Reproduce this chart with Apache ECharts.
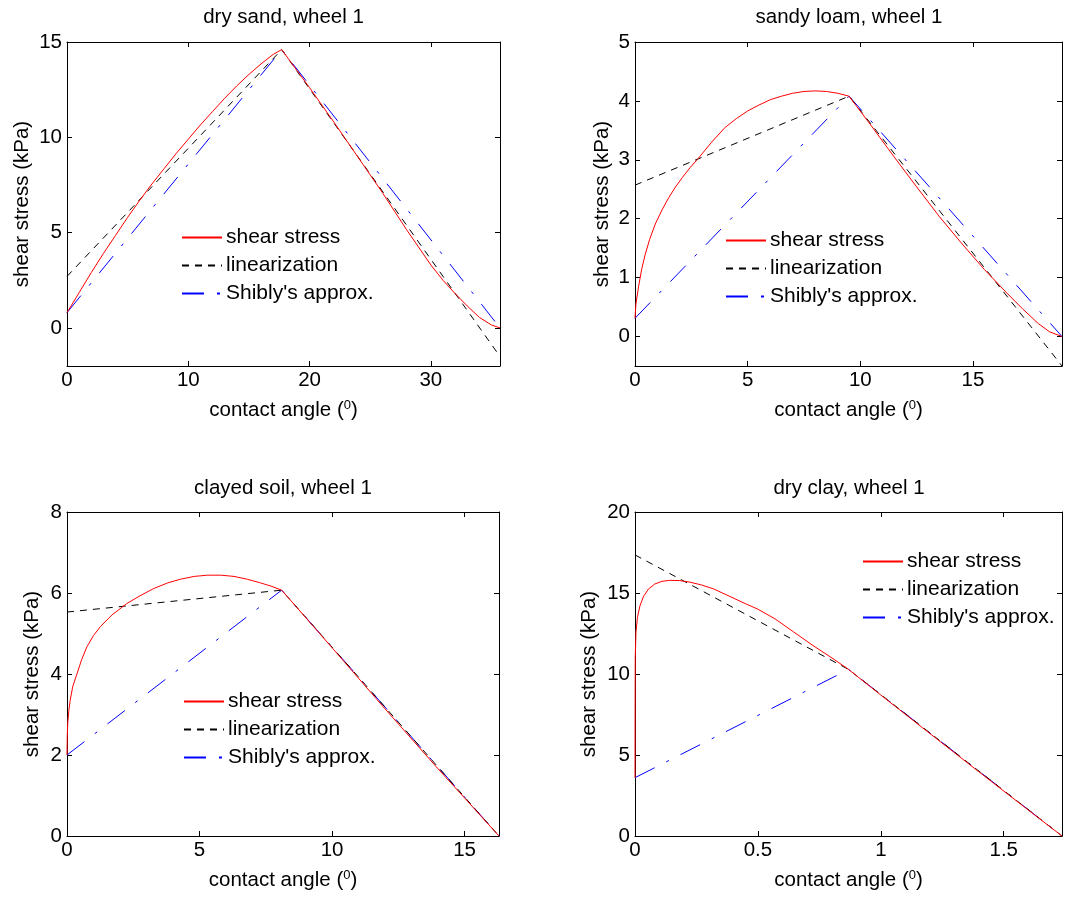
<!DOCTYPE html>
<html>
<head>
<meta charset="utf-8">
<script src="https://cdn.jsdelivr.net/npm/echarts@6/dist/echarts.min.js"></script>
<style>
  html, body { margin: 0; padding: 0; background: #fff; }
  #chart { width: 1065px; height: 902px; }
</style>
</head>
<body>
<div id="chart"></div>
<script>
// Panel titles and legend entries
const panelTitles = ['dry sand, wheel 1', 'sandy loam, wheel 1', 'clayed soil, wheel 1', 'dry clay, wheel 1'];
const seriesNames = ['shear stress', 'linearization', "Shibly's approx."];

// [contact angle (deg), shear stress (kPa)] for each soil
const drySandShear = [[0,0.8],[1,1.85],[2,2.9],[3,3.9],[4,4.85],[5,5.8],[6,6.7],[7,7.55],[8,8.35],[9,9.15],[10,9.9],[11,10.65],[12,11.35],[13,12.05],[14,12.7],[15,13.3],[16,13.85],[17,14.35],[17.7,14.6],[20,12.6],[22,10.8],[24,8.95],[26,7.1],[28,5.15],[30,3.3],[31,2.5],[32,1.8],[33,1.15],[34,0.55],[35,0.15],[35.7,0]];
const drySandLinear = [[0,2.7],[17.7,14.6],[35.7,-1.5]];
const drySandShibly = [[0,0.8],[17.7,14.6],[35.7,0]];

const sandyLoamShear = [[0,0.31],[0.04,0.55],[0.16,0.85],[0.3,1.15],[0.45,1.39],[0.65,1.65],[0.9,1.91],[1.2,2.15],[1.5,2.36],[1.8,2.54],[2.1,2.7],[2.45,2.87],[2.8,3.02],[3.4,3.3],[4,3.55],[4.5,3.7],[5,3.83],[5.5,3.93],[6,4.02],[6.5,4.08],[7,4.13],[7.5,4.16],[8,4.17],[8.5,4.16],[9,4.13],[9.5,4.08],[10.5,3.57],[11.5,3.05],[12.5,2.54],[13.5,2.04],[14.5,1.58],[15.5,1.14],[16.5,0.74],[17.2,0.47],[17.9,0.22],[18.4,0.08],[18.95,0]];
const sandyLoamLinear = [[0,2.57],[9.5,4.08],[18.95,-0.5]];
const sandyLoamShibly = [[0,0.31],[9.5,4.08],[18.95,0]];

const clayedSoilShear = [[0,2.0],[0.01,2.45],[0.03,2.8],[0.07,3.1],[0.12,3.35],[0.22,3.7],[0.38,4.01],[0.55,4.35],[0.75,4.67],[1.0,4.95],[1.26,5.17],[1.7,5.46],[2.26,5.74],[2.75,5.93],[3.27,6.11],[3.8,6.25],[4.28,6.34],[4.8,6.41],[5.3,6.44],[5.8,6.44],[6.3,6.41],[6.8,6.34],[7.3,6.25],[7.7,6.17],[8.1,6.07],[10,4.65],[12,3.14],[14,1.66],[15,0.94],[16.3,0]];
const clayedSoilLinear = [[0,5.53],[8.1,6.07],[16.3,0]];
const clayedSoilShibly = [[0,2.0],[8.1,6.07],[16.3,0]];

const dryClayShear = [[0,3.6],[0.0005,8],[0.001,11],[0.004,12.6],[0.01,13.5],[0.02,14.2],[0.035,14.8],[0.055,15.25],[0.08,15.55],[0.11,15.72],[0.14,15.78],[0.18,15.77],[0.22,15.68],[0.27,15.5],[0.32,15.25],[0.374,14.87],[0.448,14.35],[0.5,14.0],[0.57,13.4],[0.645,12.6],[0.72,11.8],[0.81,10.9],[0.869,10.28],[1.0,8.7],[1.2,6.32],[1.4,3.95],[1.6,1.6],[1.737,0]];
const dryClayLinear = [[0,17.35],[0.869,10.28],[1.737,0]];
const dryClayShibly = [[0,3.6],[0.869,10.28],[1.737,0]];

// Axis ranges per panel
const xMaxes = [35.7, 18.95, 16.3, 1.737];
const xSteps = [10, 5, 5, 0.5];
const yMins = [-2, -0.5, 0, 0];
const yMaxes = [15, 5, 8, 20];
const ySteps = [5, 1, 2, 5];

const panelData = [
  [drySandShear, drySandLinear, drySandShibly],
  [sandyLoamShear, sandyLoamLinear, sandyLoamShibly],
  [clayedSoilShear, clayedSoilLinear, clayedSoilShibly],
  [dryClayShear, dryClayLinear, dryClayShibly]
];

const FONT = '"Liberation Sans", Arial, sans-serif';
const FS = 20.5;

const grids = [
  { left: 67, top: 42, width: 433, height: 324 },
  { left: 635, top: 42, width: 428, height: 324 },
  { left: 67, top: 512, width: 432, height: 324 },
  { left: 635, top: 512, width: 428, height: 324 }
];
const yNameGaps = [34, 22, 24, 35];
const legendPos = [
  { left: 181, top: 227 },
  { left: 725, top: 230 },
  { left: 183, top: 691 },
  { left: 862, top: 551 }
];
const lineStyles = [
  { color: '#ff0000', width: 1, type: 'solid' },
  { color: '#000000', width: 1, type: [7, 6] },
  { color: '#0000ff', width: 1, type: [22, 13, 3, 13] }
];

function stepLabel(step) {
  return function (v) {
    const r = v / step;
    return Math.abs(r - Math.round(r)) < 1e-6 ? String(+v.toFixed(6)) : '';
  };
}

const xAxes = [], yAxes = [], series = [], legends = [], graphics = [];
grids.forEach((g, i) => {
  const xRange = xMaxes[i];
  const yRange = yMaxes[i] - yMins[i];
  const common = {
    gridIndex: i, type: 'value', splitLine: { show: false },
    axisLine: { show: true, onZero: false, lineStyle: { color: '#000', width: 1 } },
    axisTick: { show: true, inside: true, length: 5, lineStyle: { color: '#000', width: 1 } }
  };
  const xBase = Object.assign({}, common, {
    min: 0, max: xRange, splitNumber: Math.max(2, Math.round(xRange / xSteps[i]))
  });
  const yBase = Object.assign({}, common, {
    min: yMins[i], max: yMaxes[i], splitNumber: Math.max(2, Math.round(yRange / ySteps[i]))
  });
  xAxes.push(Object.assign({}, xBase, {
    position: 'bottom',
    axisLabel: { color: '#000', fontSize: FS, fontFamily: FONT, margin: 4, formatter: stepLabel(xSteps[i]) },
    name: 'contact angle ({sup|0})', nameLocation: 'middle', nameGap: 33,
    nameTextStyle: {
      color: '#000', fontSize: FS, fontFamily: FONT, lineHeight: 22,
      rich: { sup: { fontSize: 13, fontFamily: FONT, color: '#000', verticalAlign: 'top', lineHeight: 22 } }
    }
  }));
  xAxes.push(Object.assign({}, xBase, { position: 'top', axisLabel: { show: false } }));
  yAxes.push(Object.assign({}, yBase, {
    position: 'left',
    axisLabel: { color: '#000', fontSize: FS, fontFamily: FONT, margin: 5, formatter: stepLabel(ySteps[i]) },
    name: 'shear stress (kPa)', nameLocation: 'middle', nameGap: yNameGaps[i],
    nameTextStyle: { color: '#000', fontSize: FS, fontFamily: FONT, lineHeight: 21 }
  }));
  yAxes.push(Object.assign({}, yBase, { position: 'right', axisLabel: { show: false } }));

  panelData[i].forEach((data, k) => {
    series.push({
      name: seriesNames[k], type: 'line', xAxisIndex: 2 * i, yAxisIndex: 2 * i,
      data: data, symbol: 'none', showSymbol: false, smooth: false, clip: true,
      color: lineStyles[k].color,
      lineStyle: lineStyles[k], z: 5 - k, silent: true
    });
  });

  legends.push({
    data: seriesNames, orient: 'vertical', left: legendPos[i].left, top: legendPos[i].top,
    padding: 0, itemWidth: 40, itemHeight: 14, itemGap: 7, selectedMode: false,
    itemStyle: { opacity: 0 },
    textStyle: { color: '#000', fontSize: 21, fontFamily: FONT, lineHeight: 21, padding: [0, 0, 0, -1] }
  });

  graphics.push({
    type: 'text', x: g.left + g.width / 2, y: (i < 2 ? 17 : 488),
    style: {
      text: panelTitles[i], fill: '#000', font: FS + 'px ' + FONT,
      align: 'center', verticalAlign: 'middle', textAlign: 'center', textVerticalAlign: 'middle'
    }
  });
});

const chart = echarts.init(document.getElementById('chart'), null, { renderer: 'canvas' });
chart.setOption({
  animation: false,
  backgroundColor: '#ffffff',
  grid: grids,
  xAxis: xAxes,
  yAxis: yAxes,
  legend: legends,
  series: series,
  graphic: graphics
});
</script>
</body>
</html>
